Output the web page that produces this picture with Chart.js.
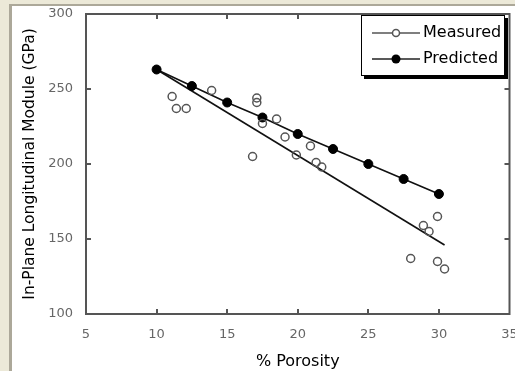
<!DOCTYPE html>
<html>
<head>
<meta charset="utf-8">
<script src="https://cdn.jsdelivr.net/npm/chart.js@4/dist/chart.umd.min.js"></script>
<style>
  html, body { margin: 0; padding: 0; background: #ECE9D8; width: 515px; height: 371px; overflow: hidden; }
  #panel { position: absolute; left: 9px; top: 4px; right: 0; bottom: 0; background: #fff;
           border-left: 3px solid #ACA899; border-top: 2px solid #ACA899; }
  #wrap { position: absolute; left: 0; top: 0; width: 515px; height: 371px; }
</style>
</head>
<body>
<div id="panel"></div>
<div id="wrap"><canvas id="c" width="515" height="371"></canvas></div>
<script>
// Data
const measuredX = [11.1, 11.4, 12.1, 13.9, 16.8, 17.1, 17.1, 17.5, 18.5, 19.1, 19.9, 20.9, 21.3, 21.7, 28.0, 28.9, 29.3, 29.9, 29.9, 30.4];
const measuredY = [245, 237, 237, 249, 205, 244, 241, 227, 230, 218, 206, 212, 201, 198, 137, 159, 155, 165, 135, 130];
const fitX = [10, 30.4];
const fitY = [263, 146];
const predictedX = [10, 12.5, 15, 17.5, 20, 22.5, 25, 27.5, 30];
const predictedY = [263, 252, 241, 231, 220, 210, 200, 190, 180];
const xTicks = [5, 10, 15, 20, 25, 30, 35];
const yTicks = [100, 150, 200, 250, 300];
const seriesNames = ['Measured', 'Predicted'];
const xTitle = '% Porosity';
const yTitle = 'In-Plane Longitudinal Module (GPa)';

const pts = (xs, ys) => xs.map((x, i) => ({ x: x, y: ys[i] }));
const FONT = 'DejaVu Sans';

const framePlugin = {
  id: 'frame',
  afterDatasetsDraw(chart) {
    const { ctx, chartArea: a, scales } = chart;
    ctx.save();
    // inward tick marks on all four sides
    ctx.strokeStyle = '#555';
    ctx.lineWidth = 2;
    const tl = 5;
    xTicks.slice(1, -1).forEach(v => {
      const px = Math.round(scales.x.getPixelForValue(v));
      ctx.beginPath();
      ctx.moveTo(px, a.bottom); ctx.lineTo(px, a.bottom - tl);
      ctx.moveTo(px, a.top); ctx.lineTo(px, a.top + tl);
      ctx.stroke();
    });
    yTicks.slice(1, -1).forEach(v => {
      const py = Math.round(scales.y.getPixelForValue(v));
      ctx.beginPath();
      ctx.moveTo(a.left, py); ctx.lineTo(a.left + tl, py);
      ctx.moveTo(a.right, py); ctx.lineTo(a.right - tl, py);
      ctx.stroke();
    });
    ctx.strokeRect(a.left, a.top, a.right - a.left, a.bottom - a.top);

    // legend box
    const bx = 361, by = 15, bw = 144, bh = 61;
    ctx.fillStyle = '#000';
    ctx.fillRect(bx + 3, by + 3, bw, bh);
    ctx.fillStyle = '#fff';
    ctx.fillRect(bx, by, bw, bh);
    ctx.lineWidth = 1;
    ctx.strokeStyle = '#000';
    ctx.strokeRect(bx + 0.5, by + 0.5, bw - 1, bh - 1);

    const rows = [33, 59];
    rows.forEach((ry, i) => {
      ctx.strokeStyle = i === 0 ? '#555' : '#222';
      ctx.lineWidth = 1.5;
      ctx.beginPath(); ctx.moveTo(372, ry); ctx.lineTo(420, ry); ctx.stroke();
      ctx.beginPath();
      ctx.arc(396, ry, i === 0 ? 3.5 : 4.5, 0, Math.PI * 2);
      if (i === 0) { ctx.fillStyle = '#fff'; ctx.fill(); ctx.strokeStyle = '#555'; ctx.stroke(); }
      else { ctx.fillStyle = '#000'; ctx.fill(); }
      ctx.fillStyle = '#000';
      ctx.font = '16px "' + FONT + '"';
      ctx.textBaseline = 'middle';
      ctx.textAlign = 'left';
      ctx.fillText(seriesNames[i], 423, ry);
    });
    ctx.restore();
  }
};

new Chart(document.getElementById('c'), {
  type: 'scatter',
  data: {
    datasets: [
      {
        label: 'fit',
        data: pts(fitX, fitY),
        showLine: true,
        borderColor: '#111',
        borderWidth: 1.6,
        pointRadius: 0,
        order: 3
      },
      {
        label: seriesNames[1],
        data: pts(predictedX, predictedY),
        showLine: true,
        borderColor: '#111',
        borderWidth: 1.6,
        pointRadius: 4.5,
        pointBackgroundColor: '#000',
        pointBorderColor: '#000',
        pointBorderWidth: 1,
        order: 2
      },
      {
        label: seriesNames[0],
        data: pts(measuredX, measuredY),
        showLine: false,
        pointRadius: 4,
        pointBackgroundColor: 'rgba(255,255,255,0)',
        pointBorderColor: '#555',
        pointBorderWidth: 1.5,
        order: 1
      }
    ]
  },
  options: {
    responsive: false,
    animation: false,
    events: [],
    layout: { padding: { left: 0, top: 14, right: 5, bottom: 0 } },
    plugins: { legend: { display: false }, tooltip: { enabled: false } },
    scales: {
      x: {
        type: 'linear', min: 5, max: 35,
        afterBuildTicks: s => { s.ticks = xTicks.map(v => ({ value: v })); },
        afterFit: s => { s.height = 57; s.paddingLeft = 0; s.paddingRight = 0; },
        grid: { display: false, drawTicks: false },
        border: { display: false },
        ticks: { padding: 13, color: '#666', font: { family: FONT, size: 13 } },
        title: { display: true, text: xTitle, color: '#000', padding: { top: 4, bottom: 0 }, font: { family: FONT, size: 16 } }
      },
      y: {
        type: 'linear', min: 100, max: 300,
        afterBuildTicks: s => { s.ticks = yTicks.map(v => ({ value: v })); },
        afterFit: s => { s.width = 86; s.paddingTop = 0; s.paddingBottom = 0; },
        grid: { display: false, drawTicks: false },
        border: { display: false },
        ticks: { padding: 13, color: '#666', font: { family: FONT, size: 13 } },
        title: { display: true, text: yTitle, color: '#000', padding: { top: 21, bottom: 0 }, font: { family: FONT, size: 15.5 } }
      }
    }
  },
  plugins: [framePlugin]
});
</script>
</body>
</html>
